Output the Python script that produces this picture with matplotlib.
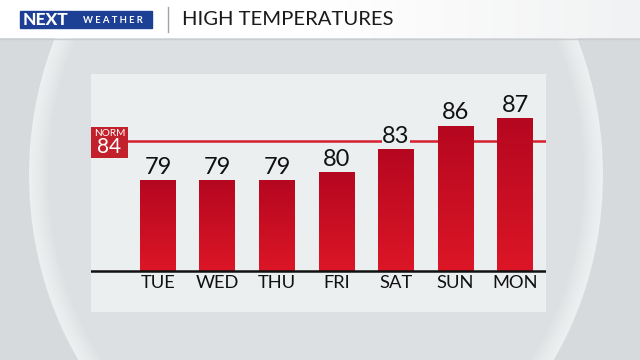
import matplotlib
matplotlib.use("Agg")
import matplotlib.pyplot as plt
import numpy as np
from matplotlib.patches import Rectangle, Ellipse
from matplotlib.colors import LinearSegmentedColormap

days = ["TUE", "WED", "THU", "FRI", "SAT", "SUN", "MON"]
highs = [79, 79, 79, 80, 83, 86, 87]
normal_high = 84
title = "HIGH TEMPERATURES"

FONT = "Lato"
W, H = 640, 360
fig = plt.figure(figsize=(6.4, 3.6), dpi=100)

# ---------- background ----------
bg = fig.add_axes([0, 0, 1, 1])
bg.set_xlim(0, W)
bg.set_ylim(H, 0)
bg.axis("off")
bg.add_patch(Rectangle((0, 0), W, H, color="#d6dadc", zorder=0))
# sphere-like ellipse with bright rim
cx, cy, a, b = 316, 175, 287, 330
n = 16
c_out = np.array([0.925, 0.935, 0.94])
c_in = np.array([0.865, 0.878, 0.886])
for i in range(n):
    t = i / (n - 1)
    col = c_out * (1 - t) + c_in * t
    shrink = 1 - 0.07 * (t ** 0.7)
    bg.add_patch(Ellipse((cx, cy), 2 * a * shrink, 2 * b * shrink,
                         color=col, zorder=1 + i * 0.01, lw=0))
# header band
grad = np.linspace(0, 1, 200).reshape(1, -1)
hdr_cmap = LinearSegmentedColormap.from_list("hdr", ["#ffffff", "#ffffff", "#f1f2f3"])
bg.imshow(grad, extent=[0, W, 38, 0], cmap=hdr_cmap, aspect="auto", zorder=3)
bg.plot([0, W], [38.5, 38.5], color="#c9cdd0", lw=1, zorder=3)
bg.set_xlim(0, W)
bg.set_ylim(H, 0)
# logo
bg.add_patch(Rectangle((20, 11), 132, 17, color="#1d3f94", zorder=4))
bg.text(23, 20, "NEXT", color="white", fontsize=12.5, fontweight="black",
        family=FONT, va="center", ha="left", zorder=5)
bg.text(113, 20.5, "W E A T H E R", color="white", fontsize=6.8, fontweight="bold",
        family=FONT, va="center", ha="center", zorder=5)
bg.plot([168, 168], [7, 32], color="#a0a4a8", lw=1, zorder=4)
bg.text(182, 19.5, title, color="#1a1a1a", fontsize=14.6, family=FONT,
        va="center", ha="left", zorder=5)

# ---------- chart panel ----------
px0, px1, py0, py1 = 91, 546, 74, 312
ax = fig.add_axes([px0 / W, 1 - py1 / H, (px1 - px0) / W, (py1 - py0) / H])
panel_col = "#eceff0"
ax.set_facecolor(panel_col)
for s in ax.spines.values():
    s.set_visible(False)
ax.set_xticks([])
ax.set_yticks([])

base = 67.26
x = np.arange(len(days))
bw = 0.605

bar_cmap = LinearSegmentedColormap.from_list("bar", ["#b50720", "#dc1626"])
bars = ax.bar(x, [h - base for h in highs], bottom=base, width=bw,
              color="#c80d22", zorder=2, lw=0)
for rect in bars:
    x0 = rect.get_x()
    im = ax.imshow(np.linspace(0, 1, 100).reshape(-1, 1), cmap=bar_cmap,
                   extent=[x0, x0 + rect.get_width(), base, base + rect.get_height()],
                   aspect="auto", zorder=2.1, origin="upper")
    im.set_clip_path(rect)
ax.set_xlim(-1.126, 6.521)
ax.set_ylim(61.97, 92.68)

# normal line + box
ax.axhline(normal_high, color="#d42030", lw=1.8, zorder=1)
ax.add_patch(Rectangle((-1.126, normal_high - 2.2), 0.62, 4.1,
                       color="#c2202b", zorder=3, lw=0))
ax.text(-0.816, normal_high + 0.95, "NORM", color="white", fontsize=7.3,
        family=FONT, ha="center", va="center", zorder=4)
ax.text(-0.816, normal_high - 0.8, str(normal_high), color="white", fontsize=15,
        family=FONT, ha="center", va="center", zorder=4)

# baseline
ax.axhline(base, color="#111111", lw=1.8, zorder=3)

for xi, h, d in zip(x, highs, days):
    ax.text(xi, h + 0.3, str(h), ha="center", va="bottom", fontsize=17,
            family=FONT, color="#111111", zorder=4,
            bbox=dict(facecolor=panel_col, edgecolor="none", pad=0.5))
    ax.text(xi, base - 1.6, d, ha="center", va="center", fontsize=13.2,
            family=FONT, color="#111111", zorder=4)

fig.savefig("out.png", dpi=100)
